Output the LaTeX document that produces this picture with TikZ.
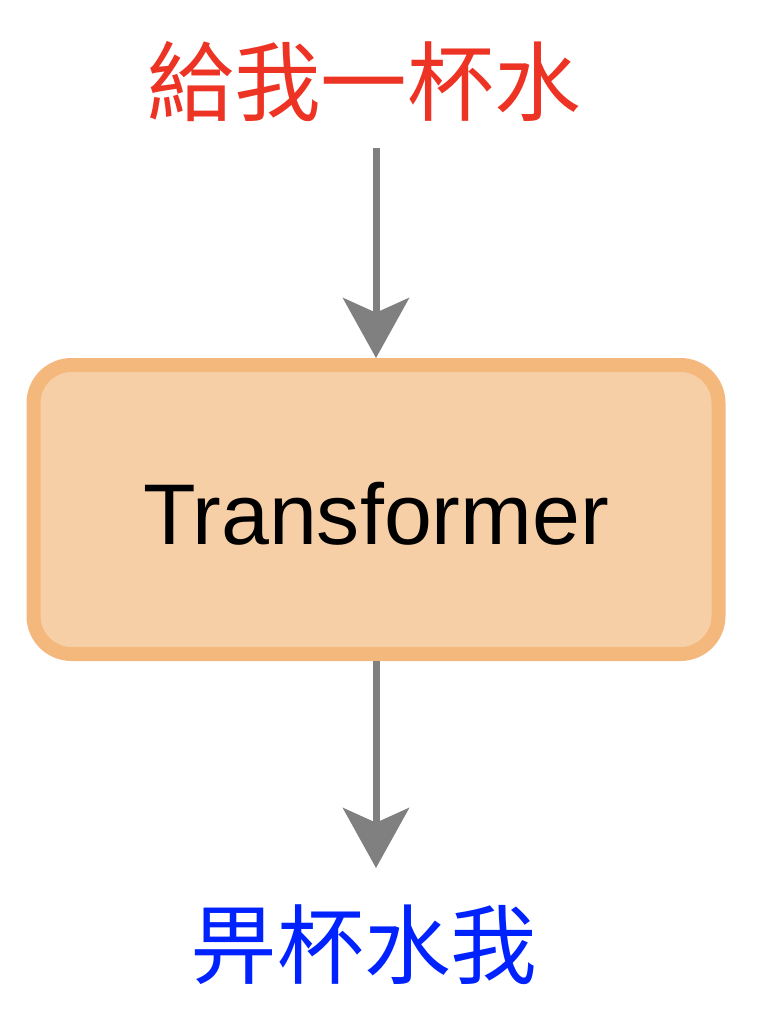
\documentclass[tikz,border=0pt]{standalone}
\usepackage{fontspec}
\setmainfont{Liberation Sans}
\newfontfamily\cjk{Noto Sans CJK TC}
\usepackage{tikz}
\usetikzlibrary{arrows.meta}
\usepackage{xcolor}
\definecolor{inred}{RGB}{236,51,36}
\definecolor{outblue}{RGB}{0,34,255}
\definecolor{boxfill}{RGB}{247,207,166}
\definecolor{boxline}{RGB}{244,184,124}
\definecolor{flowgray}{RGB}{128,128,128}

\begin{document}
\begin{tikzpicture}[x=0.75pt,y=-0.75pt,
  flow/.style={flowgray, line width=5.25pt, -{Stealth[length=45pt, width=49.5pt, inset=11pt]}},
  modelbox/.style={draw=boxline, fill=boxfill, line width=10.5pt, rounded corners=28.5pt,
    minimum width=513.75pt, minimum height=216.75pt, text height=53pt, text depth=0pt,
    font=\fontsize{64.6}{70}\selectfont},
  sentence/.style={inner sep=0pt, font=\cjk\fontsize{65}{70}\selectfont}]

\useasboundingbox (0,0) rectangle (760,1036);

\node[modelbox] (tf) at (376,509.5) {Transformer};

\node[sentence, text=inred] (src) at (364,82) {給我一杯水};
\node[sentence, text=outblue] (dst) at (364,945) {畀杯水我};

\coordinate (in) at (376,148);
\coordinate (out) at (376,868);

\draw[flow] (in) -- (tf.north);
\draw[flow] (tf.south) -- (out);

\end{tikzpicture}
\end{document}
